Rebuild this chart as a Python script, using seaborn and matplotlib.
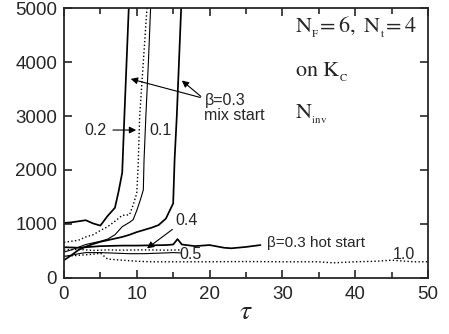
import matplotlib
matplotlib.use("Agg")
import matplotlib.pyplot as plt
import seaborn as sns

# beta = 0.3, mix start (two runs)
mix1_t = [0, 1, 2, 3, 4, 5, 6, 7, 7.5, 8, 8.3, 8.6, 8.9, 9.2]
mix1_v = [1020, 1030, 1050, 1070, 1010, 970, 1150, 1300, 1600, 1950, 3000, 4000, 5000, 6000]
mix2_t = [0, 1, 2, 3, 4, 5, 6, 7, 8, 9, 10, 11, 12, 13, 14, 15, 15.2, 15.5, 15.8, 16.1]
mix2_v = [330, 420, 520, 580, 630, 670, 700, 730, 760, 800, 850, 890, 930, 980, 1100, 1380, 2200, 3000, 4000, 5000]

# beta = 0.2 (dotted) and 0.1 (thin)
b02_t = [0, 1, 2, 3, 4, 5, 6, 7, 8, 9, 9.5, 10, 10.2, 10.4, 10.9, 11.4, 11.7]
b02_v = [660, 680, 700, 760, 800, 880, 950, 1050, 1160, 1170, 1350, 1570, 2100, 3000, 4000, 5000, 6000]
b01_t = [0, 1, 2, 3, 4, 5, 6, 7, 8, 9, 9.5, 10, 10.5, 10.9, 11.0, 11.25, 11.6, 11.9, 12.2]
b01_v = [480, 520, 570, 620, 650, 680, 720, 800, 950, 1030, 1080, 1250, 1450, 1630, 2185, 3000, 4000, 5000, 6000]

# beta = 0.3 hot start
hot_t = [0, 2, 5, 8, 10, 12, 14, 15, 15.6, 16.2, 18, 20, 22, 23, 25, 27]
hot_v = [570, 560, 590, 600, 600, 605, 610, 620, 720, 620, 590, 610, 560, 550, 575, 610]

# beta = 0.4, 0.5, 1.0
b04_t = [0, 2, 4, 6, 8, 10, 12, 14, 16]
b04_v = [520, 530, 510, 520, 515, 520, 520, 515, 520]
b05_t = [0, 1, 2, 3, 5, 7, 9, 11, 13, 15, 16]
b05_v = [400, 420, 450, 470, 470, 460, 450, 450, 460, 470, 465]
b10_t = [0, 2, 4, 5, 6, 8, 10, 12, 15, 20, 25, 30, 35, 37, 40, 43, 45, 46, 48, 50]
b10_v = [400, 420, 440, 460, 350, 330, 310, 300, 300, 300, 305, 300, 300, 280, 300, 310, 330, 320, 300, 300]

sns.set_style("ticks")
plt.rcParams["font.family"] = ["Liberation Sans", "DejaVu Sans"]
plt.rcParams["mathtext.fontset"] = "stix"

fig = plt.figure(figsize=(4.49, 3.34), dpi=100)
ax = fig.add_axes([0.1425, 0.1677, 0.8105, 0.8083])

thick = 1.25
thin = 0.8
sns.lineplot(x=mix1_t, y=mix1_v, ax=ax, color="black", lw=thick)
sns.lineplot(x=mix2_t, y=mix2_v, ax=ax, color="black", lw=thick)
sns.lineplot(x=b02_t, y=b02_v, ax=ax, color="black", lw=1.0, linestyle=":")
sns.lineplot(x=b01_t, y=b01_v, ax=ax, color="black", lw=thin)
sns.lineplot(x=hot_t, y=hot_v, ax=ax, color="black", lw=thick)
sns.lineplot(x=b04_t, y=b04_v, ax=ax, color="black", lw=1.0, linestyle=":")
sns.lineplot(x=b05_t, y=b05_v, ax=ax, color="black", lw=thin)
sns.lineplot(x=b10_t, y=b10_v, ax=ax, color="black", lw=1.0, linestyle=":")

ax.set_xlim(0, 50)
ax.set_ylim(0, 5000)
ax.set_xticks(range(0, 51, 10))
ax.set_xticks(range(5, 50, 10), minor=True)
ax.set_yticks(range(0, 5001, 1000))
ax.tick_params(which="both", direction="in", top=True, right=True, labelsize=13.5, width=1.2)
ax.tick_params(which="major", length=6)
ax.tick_params(which="minor", length=4)
ax.tick_params(axis="x", pad=6)
ax.tick_params(axis="y", pad=5)
for s in ax.spines.values():
    s.set_linewidth(1.3)
ax.set_xlabel(r"$\tau$", fontsize=20, labelpad=-3)
ax.set_ylabel("")

arrow = dict(arrowstyle="-|>", color="black", lw=0.8, mutation_scale=10)
fs = 11.5
ax.annotate("0.2", xy=(10.3, 2740), xytext=(5.9, 2740), ha="right", va="center",
            fontsize=fs, arrowprops=arrow)
ax.text(11.8, 2740, "0.1", ha="left", va="center", fontsize=fs)
ax.text(19.3, 3140, "β=0.3\nmix start", ha="left", va="center", fontsize=fs, linespacing=1.0)
ax.annotate("", xy=(8.8, 3700), xytext=(19.1, 3330), arrowprops=arrow)
ax.annotate("", xy=(15.9, 3690), xytext=(19.1, 3330), arrowprops=arrow)
ax.text(16.8, 1060, "0.4", ha="center", va="center", fontsize=fs)
ax.annotate("", xy=(11.1, 518), xytext=(15.2, 930), arrowprops=arrow)
ax.text(15.9, 440, "0.5", ha="left", va="center", fontsize=fs)
ax.text(27.9, 640, "β=0.3 hot start", ha="left", va="center", fontsize=11)
ax.text(46.7, 440, "1.0", ha="center", va="center", fontsize=fs)

ax.text(31.7, 4640, r"$\mathrm{N_{_F}\!=6,\ N_{_t}\!=4}$", fontsize=16, ha="left", va="center")
ax.text(31.7, 3800, r"$\mathrm{on\ K_{_C}}$", fontsize=16, ha="left", va="center")
ax.text(31.7, 3030, r"$\mathrm{N_{_{inv}}}$", fontsize=16, ha="left", va="center")

fig.savefig("out.png", dpi=100)
